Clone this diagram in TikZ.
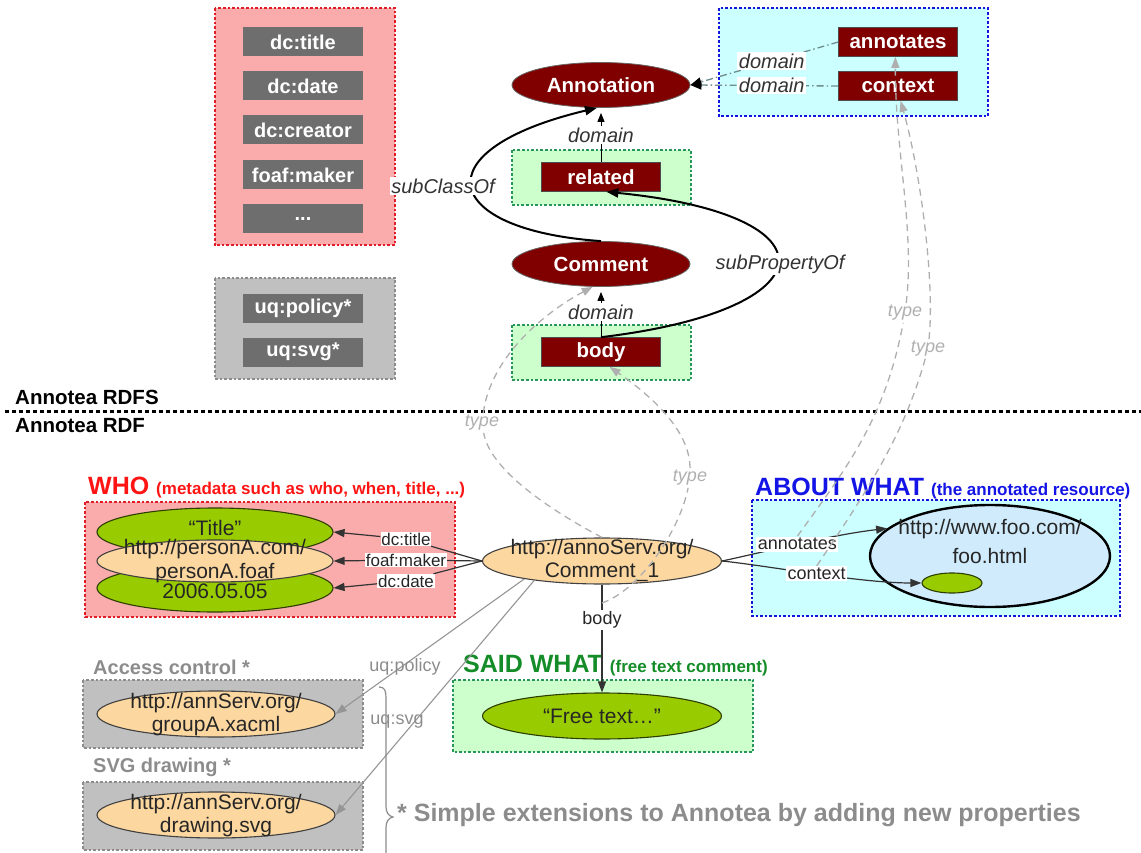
\documentclass[tikz,border=0pt]{standalone}
\usepackage{fontspec}
\setmainfont{Liberation Sans}
\usetikzlibrary{shapes.geometric,arrows.meta}

\definecolor{pinkfill}{RGB}{250,172,172}
\definecolor{redline}{RGB}{225,30,40}
\definecolor{propgray}{RGB}{110,110,110}
\definecolor{grayfill}{RGB}{192,192,192}
\definecolor{grayline}{RGB}{140,140,140}
\definecolor{darkred}{RGB}{128,0,0}
\definecolor{cyanfill}{RGB}{204,255,255}
\definecolor{blueline}{RGB}{20,20,220}
\definecolor{greenfill}{RGB}{204,255,204}
\definecolor{greenline}{RGB}{40,150,90}
\definecolor{peach}{RGB}{252,215,160}
\definecolor{lime}{RGB}{153,204,0}
\definecolor{skyfill}{RGB}{208,236,252}
\definecolor{whored}{RGB}{255,20,20}
\definecolor{aboutblue}{RGB}{20,20,230}
\definecolor{saidgreen}{RGB}{20,140,40}
\definecolor{exgray}{RGB}{140,140,140}
\definecolor{typegray}{RGB}{175,175,175}
\definecolor{domline}{RGB}{110,140,140}

\newcommand\pxf[2]{\fontsize{#1}{#2}\selectfont}

\begin{document}
\begin{tikzpicture}[x=1pt,y=-1pt,
  every node/.style={inner sep=0pt},
  dotborder/.style={line width=2.4pt, dash pattern=on 2.6pt off 2pt},
  redgroup/.style={dotborder, draw=redline, fill=pinkfill},
  graygroup/.style={dotborder, draw=grayline, fill=grayfill},
  bluegroup/.style={dotborder, draw=blueline, fill=cyanfill},
  greengroup/.style={dotborder, draw=greenline, fill=greenfill},
  gprop/.style={fill=propgray, text=white, font=\pxf{20}{24}\bfseries,
    minimum width=120pt, minimum height=29pt},
  rprop/.style={fill=darkred, draw=black!70, line width=0.6pt, text=white,
    font=\pxf{20.5}{24}\bfseries, minimum width=119pt, minimum height=29pt},
  rclass/.style={ellipse, fill=darkred, draw=black!60, line width=0.8pt, text=white,
    font=\pxf{20.5}{24}\bfseries, minimum width=178pt, minimum height=45pt},
  peachE/.style={ellipse, fill=peach, draw=black!75, line width=1.1pt},
  limeE/.style={ellipse, fill=lime, draw=black!70!lime, line width=1.1pt},
  etext/.style={font=\pxf{21}{24}, text=black!85},
  rel/.style={draw=black!80, line width=1.2pt, -{Triangle[length=11pt,width=8pt]}},
  elabel/.style={fill=white, font=\pxf{18}{20}, text=black!85, inner sep=1.5pt},
  wholabel/.style={fill=white, font=\pxf{17}{19}, text=black!85, inner sep=0.8pt},
  domainline/.style={draw=domline, line width=1.3pt,
    dash pattern=on 7pt off 3pt on 1.5pt off 3pt,
    -{Triangle[length=11pt,width=9pt,color=black]}},
  domarr/.style={draw=black, line width=1pt, shorten >=5pt,
    -{Triangle[length=9pt,width=7pt]}},
  classarr/.style={draw=black, line width=2pt, -{Triangle[length=12pt,width=9pt]}},
  dlabel/.style={fill=white, font=\pxf{20}{22}\itshape, text=black!80, inner sep=1.5pt},
  typeline/.style={draw=typegray, line width=1.3pt, dash pattern=on 7pt off 5pt,
    -{Triangle[length=11pt,width=8pt]}},
  typelbl/.style={font=\pxf{18}{20}\itshape, text=typegray, inner sep=2pt},
  uqline/.style={draw=typegray!85!black, line width=1.1pt,
    -{Triangle[length=11pt,width=8pt]}},
  uqlabel/.style={font=\pxf{18}{20}, text=exgray},
  divider/.style={draw=black, line width=3pt, dash pattern=on 4pt off 3pt},
  grouptitle/.style={anchor=base west, font=\pxf{25}{28}\bfseries},
  exttitle/.style={anchor=west, font=\pxf{20}{24}\bfseries, text=exgray}
]
\useasboundingbox (0,0) rectangle (1141,853);

% ---------------- Annotea RDFS ----------------
% Dublin Core / FOAF properties
\path[redgroup] (215,8) rectangle (395,245);
\node[gprop] (dctitle)   at (303,42)  {dc:title};
\node[gprop] (dcdate)    at (303,86)  {dc:date};
\node[gprop] (dccreator) at (303,130) {dc:creator};
\node[gprop] (foafmaker) at (303,175) {foaf:maker};
\node[gprop] (moreprops) at (303,219) {...};

% extension properties
\path[graygroup] (215,278) rectangle (395,379);
\node[gprop] (uqpolicy) at (303,308) {uq:policy*};
\node[gprop] (uqsvg)    at (303,352) {uq:svg*};

% properties whose domain is Annotation
\path[bluegroup] (719,8) rectangle (988,116);
\node[rprop] (annotates) at (898,42) {annotates};
\node[rprop] (context)   at (898,86) {context};

\path[greengroup] (512,150) rectangle (691,205);
\node[rprop] (related) at (601,177) {related};
\path[greengroup] (512,325) rectangle (691,380);
\node[rprop] (body) at (601,352) {body};

% classes
\node[rclass] (Annotation) at (601,85)  {Annotation};
\node[rclass] (Comment)    at (601,264) {Comment};

% domain relations
\draw[domainline] (annotates.west) -- node[dlabel, pos=0.45] (domA) {domain} (Annotation.east);
\draw[domainline] (context.west)   -- node[dlabel, pos=0.45] (domC) {domain} (Annotation.east);
\draw[domarr] (related.north) -- node[dlabel] (domR) {domain} (Annotation.south);
\draw[domarr] (body.north)    -- node[dlabel] (domB) {domain} (Comment.south);

% subclass / subproperty
\draw[classarr] (Comment.north) .. controls (440,230) and (420,150) .. (Annotation.260);
\node[dlabel] (subclassLbl) at (443,186) {subClassOf};
\draw[classarr] (body.north) .. controls (830,310) and (840,215) .. (related.-70);
\node[dlabel] (subpropLbl) at (780,264) {subPropertyOf};

% ---------------- layer divider ----------------
\coordinate (divL) at (5,411);
\coordinate (divR) at (1141,411);
\draw[divider] (divL) -- (divR);
\node[anchor=base west, font=\pxf{20.5}{24}\bfseries] (rdfsTitle) at (15,404) {Annotea RDFS};
\node[anchor=base west, font=\pxf{20.5}{24}\bfseries] (rdfTitle)  at (15,432) {Annotea RDF};

% ---------------- Annotea RDF ----------------
% WHO
\node[grouptitle, text=whored] (whoTitle) at (88,494)
  {WHO \pxf{17}{20}(metadata such as who, when, title, ...)};
\path[redgroup] (85,502) rectangle (455,617);
\node[limeE, minimum width=236pt, minimum height=48pt] (titleE) at (215,532) {};
\node[limeE, minimum width=236pt, minimum height=48pt] (dateE)  at (215,588) {};
\node[peachE, minimum width=236pt, minimum height=42pt] (personE) at (215,561) {};
\node[etext] (titleT)   at (215,528) {“Title”};
\node[etext] (personT1) at (215,549) {http://personA.com/};
\node[etext] (personT2) at (215,573) {personA.foaf};
\node[etext] (dateT)    at (215,591) {2006.05.05};

% the annotation instance
\node[peachE, minimum width=239pt, minimum height=46pt] (annoServ) at (602,561) {};
\node[etext] (annoT1) at (602,549) {http://annoServ.org/};
\node[etext] (annoT2) at (602,572) {Comment\_1};

\node[wholabel] (lblTitle) at (406,539) {dc:title};
\node[wholabel] (lblMaker) at (406,560) {foaf:maker};
\node[wholabel] (lblDate)  at (406,581) {dc:date};
\draw[rel] (annoServ.west) -- (lblTitle) -- (titleE.east);
\draw[rel] (annoServ.west) -- (lblMaker) -- (personE.east);
\draw[rel] (annoServ.west) -- (lblDate)  -- (dateE.east);

% ABOUT WHAT
\node[grouptitle, text=aboutblue] (aboutTitle) at (755,495)
  {ABOUT WHAT \pxf{17}{20}(the annotated resource)};
\path[bluegroup] (752,500) rectangle (1120,616);
\node[ellipse, fill=skyfill, draw=black, line width=2.4pt,
      minimum width=240pt, minimum height=102pt] (fooE) at (990,556) {};
\node[etext] (fooT1) at (990,529) {http://www.foo.com/};
\node[etext] (fooT2) at (990,556) {foo.html};
\node[limeE, minimum width=60pt, minimum height=20pt] (dotE) at (952,583) {};

\draw[rel] (annoServ.east) .. controls (760,553) and (830,535) .. (fooE.165)
  node[elabel, pos=0.5] (annLbl) {annotates};
\draw[rel] (annoServ.east) .. controls (770,566) and (860,583) .. (dotE.west)
  node[elabel, pos=0.5] (ctxLbl) {context};

% SAID WHAT
\node[grouptitle, text=saidgreen] (saidTitle) at (463,672)
  {SAID WHAT \pxf{17}{20}(free text comment)};
\path[greengroup] (453,680) rectangle (753,752);
\node[limeE, minimum width=239pt, minimum height=46pt] (freeE) at (602,716) {};
\node[etext] (freeT) at (602,716) {“Free text…”};
\draw[rel] (annoServ.south) -- node[elabel, pos=0.33] (bodyLbl) {body} (freeE.north);
\coordinate (bodyFoot) at (602,603);

% extensions
\node[exttitle] (accTitle) at (93,667) {Access control *};
\path[graygroup] (83,680) rectangle (363,748);
\node[peachE, minimum width=238pt, minimum height=46pt] (groupE) at (216,714) {};
\node[etext] (groupT1) at (216,703) {http://annServ.org/};
\node[etext] (groupT2) at (216,726) {groupA.xacml};

\node[exttitle] (svgTitle) at (93,767) {SVG drawing *};
\path[graygroup] (83,782) rectangle (363,850);
\node[peachE, minimum width=238pt, minimum height=46pt] (drawE) at (216,815) {};
\node[etext] (drawT1) at (216,804) {http://annServ.org/};
\node[etext] (drawT2) at (216,827) {drawing.svg};

\draw[uqline] (annoServ.193) -- (groupE.east);
\draw[uqline] (annoServ.196) -- (drawE.east);
\node[uqlabel] (uqpolLbl) at (405,667) {uq:policy};
\node[uqlabel] (uqsvgLbl) at (397,722) {uq:svg};

% brace gathering the extensions
\draw[exgray, line width=1.2pt]
  (379,687) .. controls (385,687) and (386,691) .. (386,698) -- (386,806)
  .. controls (386,812) and (388,816) .. (393,817)
  .. controls (388,818) and (386,822) .. (386,828) -- (386,853);
\node[anchor=west, font=\pxf{25}{28}\bfseries, text=exgray] (extNote) at (397,815)
  {* Simple extensions to Annotea by adding new properties};

% ---------------- rdf:type links ----------------
\node[typelbl] (tA) at (905,313) {type};
\node[typelbl] (tB) at (928,349) {type};
\node[typelbl] (tC) at (482,423) {type};
\node[typelbl] (tD) at (690,478) {type};

\draw[typeline] (annLbl.north) .. controls (845,470) and (885,420) .. (tA)
  .. controls (915,230) and (895,150) .. (annotates.-100);
\draw[typeline] (ctxLbl.north) .. controls (875,480) and (905,430) .. (tB)
  .. controls (935,280) and (920,170) .. (context.-80);
\draw[typeline] (annoServ.north) .. controls (550,510) and (490,470) .. (tC)
  .. controls (490,360) and (540,315) .. (Comment.250);
\draw[typeline] (bodyFoot) .. controls (640,590) and (680,530) .. (tD)
  .. controls (690,430) and (650,395) .. (body.-60);
\end{tikzpicture}
\end{document}
